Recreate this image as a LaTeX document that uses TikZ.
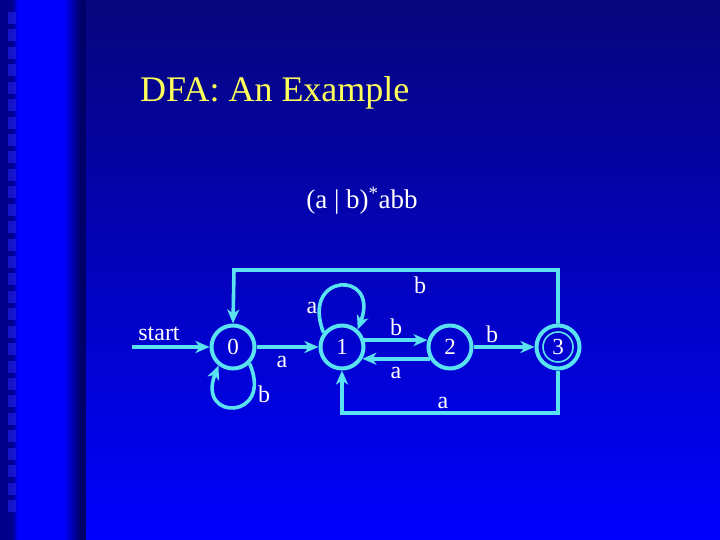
\documentclass[tikz,border=0pt]{standalone}
\usepackage{fontspec}
\setmainfont{Liberation Serif}
\usetikzlibrary{arrows.meta,calc}
\definecolor{edgecyan}{RGB}{90,226,240}
\definecolor{navytop}{RGB}{6,6,124}
\definecolor{bluebot}{RGB}{0,0,255}
\definecolor{stripdark}{RGB}{0,0,140}
\definecolor{edgedark}{RGB}{0,0,105}
\definecolor{sqcol}{RGB}{30,30,225}
\definecolor{titleyellow}{RGB}{255,255,90}
\tikzset{
  state/.style={circle,draw=edgecyan,line width=4pt,minimum size=43pt,inner sep=0pt,
    text=white,font=\fontsize{23}{23}\selectfont},
  edge/.style={draw=edgecyan,line width=3.6pt,-{Stealth[length=14pt,width=12pt,inset=4pt]}},
  lab/.style={text=white,font=\fontsize{24}{24}\selectfont,anchor=base,inner sep=0pt},
  ring/.style={draw=edgecyan,line width=1.6pt}
}
\begin{document}
\begin{tikzpicture}[x=1pt,y=-1pt]
\useasboundingbox (0,0) rectangle (720,540);
% background
\shade[top color=navytop,bottom color=bluebot] (86,0) rectangle (720,540);
\fill[stripdark] (0,0) rectangle (12,540);
\shade[left color=stripdark,right color=bluebot] (12,0) rectangle (18,540);
\fill[bluebot] (18,0) rectangle (64,540);
\shade[left color=bluebot,right color=edgedark] (64,0) rectangle (80,540);
\fill[edgedark] (80,0) rectangle (86,540);
\foreach \i in {0,...,28}{
  \fill[sqcol,opacity=0.7] (8,{12+17.43*\i}) rectangle (16,{24+17.43*\i});
}
% title
\node[text=titleyellow,font=\fontsize{36}{36}\selectfont,anchor=base west,inner sep=0pt] (title) at (140,102) {DFA: An Example};
\node[text=white,font=\fontsize{27}{27}\selectfont,anchor=base,inner sep=0pt] (regex) at (362,209) {(a | b)\textsuperscript{*}abb};
% states
\node[state] (n0) at (233,347) {0};
\node[state] (n1) at (342,347) {1};
\node[state] (n2) at (450,347) {2};
\node[state] (n3) at (558,347) {3};
\draw[ring] (n3.center) circle (15);
\coordinate (s) at (132,347);
\coordinate (top) at (234,270);
\coordinate (bot) at (342,413);
% edges
\draw[edge] (s) -- (n0);
\draw[edge] (n0) -- (n1);
\draw[edge] (n1.17) -- (n2.163);
\draw[edge] (n2.-150) -- (n1.-30);
\draw[edge] (n2) -- (n3);
\draw[edge] (n3.north) |- (top) -- (n0.north);
\draw[edge] (n3.south) |- (bot) -- (n1.south);
\draw[edge] (n0.-45) .. controls (274,420) and (196,422) .. (n0.-128);
\draw[edge] (n1.142) .. controls (300,272) and (380,270) .. (n1.48);
% labels
\node[lab] (ls) at (159,340) {start};
\node[lab] (l01) at (282,367) {a};
\node[lab] (l00) at (264,402) {b};
\node[lab] (l11) at (312,313) {a};
\node[lab] (l30) at (420,293) {b};
\node[lab] (l12) at (396,335) {b};
\node[lab] (l21) at (396,378) {a};
\node[lab] (l23) at (492,342) {b};
\node[lab] (l31) at (443,408) {a};
\end{tikzpicture}
\end{document}
